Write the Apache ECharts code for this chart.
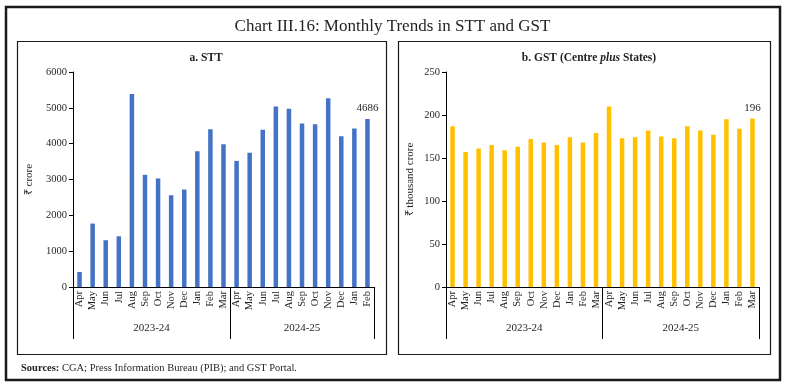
<!DOCTYPE html>
<html><head><meta charset="utf-8">
<script src="https://cdn.jsdelivr.net/npm/echarts/dist/echarts.min.js"></script>
<style>html,body{margin:0;padding:0;background:#fff}#c{width:785px;height:388px}</style>
</head><body><div id="c"></div>
<script>
const chartTitle = 'Chart III.16: Monthly Trends in STT and GST';
const sourceNote = 'CGA; Press Information Bureau (PIB); and GST Portal.';
const monthNames = ['Apr','May','Jun','Jul','Aug','Sep','Oct','Nov','Dec','Jan','Feb','Mar'];
const yearLabels = ['2023-24','2024-25'];

const sttMonths = monthNames.concat(monthNames.slice(0, 11));
const sttValues = [420,1770,1305,1415,5385,3130,3030,2560,2720,3790,4405,3985,
                   3520,3745,4390,5040,4975,4565,4545,5265,4210,4420,4686];

const gstMonths = monthNames.concat(monthNames);
const gstValues = [187,157,161,165,159,163,172,168,165,174,168,179,
                   210,173,174,182,175,173,187,182,177,195,184,196];

const FONT = 'Liberation Serif';
const TXT = '#231f20';

function withLastLabel(vals){
  return vals.map((v,i)=> i===vals.length-1 ? {value:v, label:{show:true}} : v);
}
function yearAxis(gridIndex, months){
  const first = Math.floor((12-1)/2);
  const secondLen = months.length - 12;
  const secondIdx = 12 + Math.floor((secondLen-1)/2);
  const secondEven = secondLen % 2 === 0;
  return {
    type:'category', gridIndex, data: months, position:'bottom',
    axisLine:{show:false}, axisTick:{show:false},
    axisLabel:{
      interval:0, margin:36, fontFamily:FONT, fontSize:11, color:TXT,
      formatter:(v,i)=> i===first ? '{s|'+yearLabels[0]+'}' :
                        i===secondIdx ? (secondEven ? '{s|'+yearLabels[1]+'}' : '{n|'+yearLabels[1]+'}') : '',
      rich:{ s:{padding:[0,0,0,13], fontFamily:FONT, fontSize:11, color:TXT},
             n:{fontFamily:FONT, fontSize:11, color:TXT} }
    }
  };
}
function monthAxis(gridIndex, months){
  return {
    type:'category', gridIndex, data: months,
    axisLine:{lineStyle:{color:'#000', width:1}},
    axisTick:{show:true, length:52, lineStyle:{color:'#000'}, interval:(i)=> i===0 || i===12},
    axisLabel:{interval:0, rotate:90, margin:4, fontFamily:FONT, fontSize:10.5, color:TXT}
  };
}
function valAxis(gridIndex, max, interval, name, gap){
  return {
    type:'value', gridIndex, min:0, max, interval,
    name, nameLocation:'middle', nameGap:gap, nameRotate:90,
    nameTextStyle:{fontFamily:FONT, fontSize:11, color:TXT},
    axisLine:{show:true, lineStyle:{color:'#000'}},
    axisTick:{show:true, length:4, lineStyle:{color:'#000'}},
    splitLine:{show:false},
    axisLabel:{fontFamily:FONT, fontSize:10.5, color:TXT, margin:6, formatter:(v)=> String(v)}
  };
}

const chart = echarts.init(document.getElementById('c'), null, {renderer:'canvas'});
chart.setOption({
  animation:false,
  backgroundColor:'#fff',
  title:[
    {text:chartTitle, left:'center', top:13, textStyle:{fontFamily:FONT, fontSize:17, fontWeight:'normal', color:TXT}},
    {text:'a. STT', left:201, textAlign:'center', top:47, textStyle:{fontFamily:FONT, fontSize:11.5, fontWeight:'bold', color:TXT}},
    {text:'{b|b. GST (Centre }{i|plus}{b| States)}', left:584, textAlign:'center', top:47,
     textStyle:{rich:{b:{fontFamily:FONT, fontSize:11.5, fontWeight:'bold', color:TXT},
                      i:{fontFamily:FONT, fontSize:11.5, fontWeight:'bold', fontStyle:'italic', color:TXT}}}},
    {text:'{b|Sources: }{r|'+sourceNote+'}', left:16, top:358,
     textStyle:{fontWeight:'normal', rich:{b:{fontFamily:FONT, fontSize:10.5, fontWeight:'bold', color:TXT},
                      r:{fontFamily:FONT, fontSize:10.5, fontWeight:'normal', color:TXT}}}}
  ],
  graphic:[
    {type:'rect', shape:{x:6, y:7, width:774, height:373}, style:{fill:'none', stroke:'#1a1a1a', lineWidth:2.5}, silent:true},
    {type:'rect', shape:{x:17.5, y:41.5, width:369, height:313}, style:{fill:'none', stroke:'#1a1a1a', lineWidth:1.2}, silent:true},
    {type:'rect', shape:{x:398.5, y:41.5, width:372, height:313}, style:{fill:'none', stroke:'#1a1a1a', lineWidth:1.2}, silent:true}
  ],
  grid:[
    {left:73, right:411, top:72, bottom:101},
    {left:446, right:26, top:72, bottom:101}
  ],
  xAxis:[ monthAxis(0, sttMonths), yearAxis(0, sttMonths), monthAxis(1, gstMonths), yearAxis(1, gstMonths) ],
  yAxis:[ valAxis(0, 6000, 1000, '₹ crore', 38), valAxis(1, 250, 50, '₹ thousand crore', 30) ],
  series:[
    {type:'bar', xAxisIndex:0, yAxisIndex:0, data:withLastLabel(sttValues), barWidth:4.5,
     itemStyle:{color:'#4472C4'},
     label:{show:false, position:'top', distance:5, fontFamily:FONT, fontSize:11, color:TXT}},
    {type:'bar', xAxisIndex:2, yAxisIndex:1, data:withLastLabel(gstValues), barWidth:4.5,
     itemStyle:{color:'#FFC000'},
     label:{show:false, position:'top', distance:5, fontFamily:FONT, fontSize:11, color:TXT}}
  ]
});
</script></body></html>
